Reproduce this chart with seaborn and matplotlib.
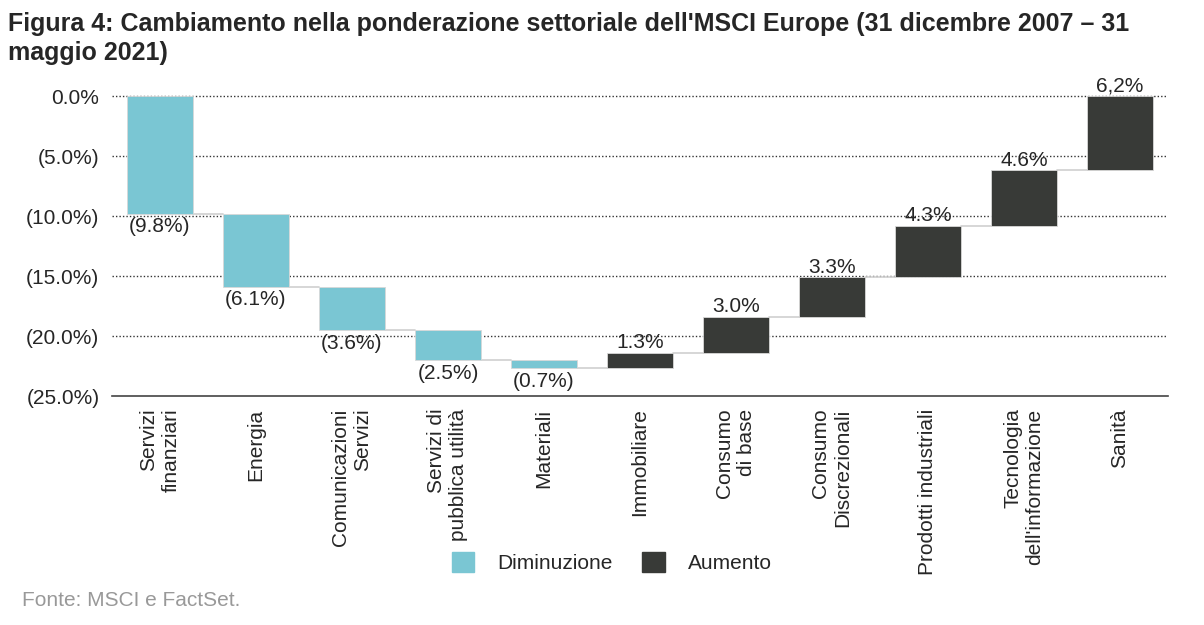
import numpy as np
import pandas as pd
import seaborn as sns
from matplotlib import pyplot as plt
from matplotlib.patches import Patch

# data
sectors = ['Servizi\nfinanziari', 'Energia', 'Comunicazioni\nServizi', 'Servizi di\npubblica utilità',
           'Materiali', 'Immobiliare', 'Consumo\ndi base', 'Consumo\nDiscrezionali',
           'Prodotti industriali', 'Tecnologia\ndell\'informazione', 'Sanità']
changes = [-9.8, -6.1, -3.6, -2.5, -0.7, 1.3, 3.0, 3.3, 4.3, 4.6, 6.2]
value_labels = ['(9.8%)', '(6.1%)', '(3.6%)', '(2.5%)', '(0.7%)', '1.3%', '3.0%', '3.3%', '4.3%', '4.6%', '6,2%']
y_ticks = [0, -5, -10, -15, -20, -25]
y_tick_labels = ['0.0%', '(5.0%)', '(10.0%)', '(15.0%)', '(20.0%)', '(25.0%)']

col_dec = '#7AC6D3'
col_inc = '#383A37'

sns.set_style('white')
plt.rcParams['font.family'] = ['Liberation Sans', 'DejaVu Sans']

changes = np.array(changes)
ends = np.cumsum(changes)
starts = ends - changes
df = pd.DataFrame({'sector': sectors, 'change': changes, 'start': starts, 'end': ends})
df['tipo'] = np.where(df['change'] < 0, 'Diminuzione', 'Aumento')

fig = plt.figure(figsize=(12.04, 6.25), dpi=100)
ax = fig.add_axes([0.093, 0.3664, 0.877, 0.4896])

bar_w = 0.68
for tipo, col in [('Diminuzione', col_dec), ('Aumento', col_inc)]:
    sub = df[df['tipo'] == tipo]
    sns.barplot(data=sub, x='sector', y='change', order=sectors, color=col, saturation=1,
                bottom=sub['start'].values, width=bar_w, ax=ax, zorder=3,
                edgecolor='#d8d8d8', linewidth=0.6)

# connector lines between bars
for i in range(len(sectors) - 1):
    ax.plot([i + bar_w / 2, i + 1 - bar_w / 2], [ends[i], ends[i]], color='#d0d0d0', lw=1.2, zorder=2)

# value labels
for i, row in df.iterrows():
    if row['change'] < 0:
        ax.text(i, row['end'] - 0.3, value_labels[i], ha='center', va='top', fontsize=15, zorder=4)
    else:
        ax.text(i, row['end'] + 0.05, value_labels[i], ha='center', va='bottom', fontsize=15,
                zorder=4, clip_on=False)

ax.set_ylim(-25, 0.5)
ax.set_xlim(-0.5, 10.5)
ax.set_yticks(y_ticks)
ax.set_yticklabels(y_tick_labels, fontsize=15)
for y in y_ticks[:-1]:
    ax.axhline(y, color='#333333', lw=1, ls=(0, (1, 1.5)), zorder=1)
ax.set_xticks(range(len(sectors)))
ax.set_xticklabels(sectors, rotation=90, fontsize=15, va='top', ha='center', multialignment='right')
ax.tick_params(axis='y', length=0, pad=9)
ax.tick_params(axis='x', length=0, pad=9)
ax.set_xlabel('')
ax.set_ylabel('')
for s in ['top', 'right', 'left']:
    ax.spines[s].set_visible(False)
ax.spines['bottom'].set_color('#444444')
ax.spines['bottom'].set_linewidth(1.2)

handles = [Patch(color=col_dec, label='Diminuzione'), Patch(color=col_inc, label='Aumento')]
fig.legend(handles=handles, loc='center', bbox_to_anchor=(0.508, 0.1), ncol=2, frameon=False,
           fontsize=15, handlelength=1.1, handleheight=1.1, columnspacing=1.4, handletextpad=1.1)

fig.text(0.007, 0.98, "Figura 4: Cambiamento nella ponderazione settoriale dell'MSCI Europe (31 dicembre 2007 \u2013 31\nmaggio 2021)",
         fontsize=18, fontweight='bold', va='top', ha='left', linespacing=1.25)
fig.text(0.018, 0.04, 'Fonte: MSCI e FactSet.', fontsize=15, color='#999999', va='center', ha='left')

fig.savefig('out.png', dpi=100)
